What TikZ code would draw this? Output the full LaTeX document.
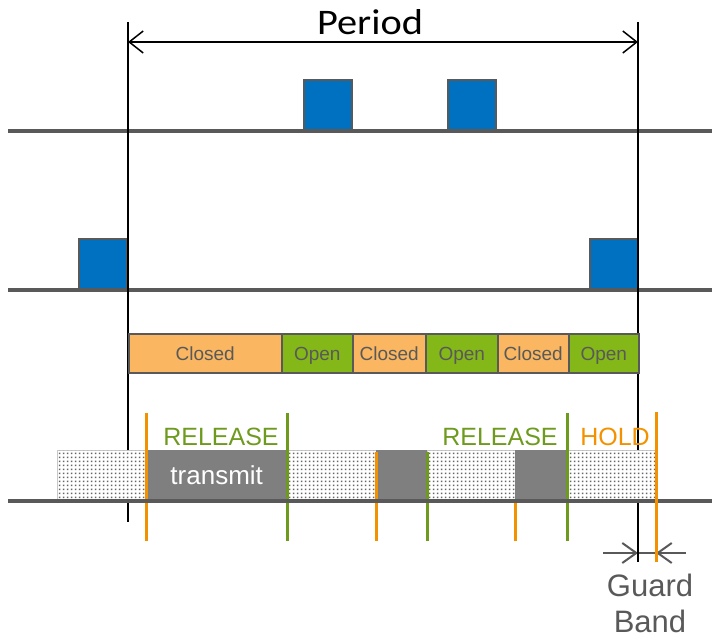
\documentclass[tikz,border=0pt]{standalone}
\usepackage{fontspec}
\setmainfont{Liberation Sans}
\newfontfamily\perfont{Carlito}
\usetikzlibrary{arrows.meta,patterns.meta}
\definecolor{lgray}{HTML}{595959}
\definecolor{blu}{HTML}{0070C0}
\definecolor{gorange}{HTML}{FAB660}
\definecolor{ggreen}{HTML}{84B818}
\definecolor{dgreen}{HTML}{6E9A1E}
\definecolor{orng}{HTML}{F39200}
\definecolor{tgray}{HTML}{7F7F7F}
\definecolor{bgray}{HTML}{C8C8C8}
\definecolor{dotgray}{HTML}{666666}
\tikzdeclarepattern{
  name=fdots,
  type=uncolored,
  bounding box={(0pt,0pt) and (3.6pt,3.6pt)},
  tile size={(3.6pt,3.6pt)},
  code={\fill (0.9pt,0.9pt) rectangle (2.7pt,2.7pt);}
}
\begin{document}
\begin{tikzpicture}[x=1pt,y=-1pt,
  wire/.style={draw=lgray,line width=4pt},
  frame/.style={draw=lgray,fill=blu,line width=2pt,minimum width=48pt,minimum height=50pt,inner sep=0pt,anchor=south west},
  bound/.style={draw=black,line width=2pt},
  gateseg/.style={draw=lgray,line width=1.5pt,minimum height=39pt,inner sep=0pt,text height=13.6pt,text depth=0pt,anchor=north west,text=lgray,font=\fontsize{19}{19}\selectfont},
  closedseg/.style={gateseg,fill=gorange},
  openseg/.style={gateseg,fill=ggreen},
  idle/.style={draw=bgray,line width=1pt,fill=white,postaction={pattern=fdots,pattern color=dotgray},minimum height=50pt,inner sep=0pt,anchor=north west},
  busy/.style={fill=tgray,minimum height=50pt,inner sep=0pt,anchor=north west},
  orl/.style={draw=orng,line width=3pt},
  grl/.style={draw=dgreen,line width=3pt},
  lbl/.style={font=\fontsize{25}{25}\selectfont,inner sep=0pt,anchor=base},
  gtxt/.style={font=\fontsize{31}{31}\selectfont,text=lgray,inner sep=0pt,anchor=base},
  garrow/.style={draw=lgray,line width=2pt,-{Straight Barb[length=14pt,width=20pt,line width=2pt]}}
]
\useasboundingbox (0,0) rectangle (712,639);

% blue frames
\node[frame] (f1) at (303,131) {};
\node[frame] (f2) at (447,131) {};
\node[frame] (f3) at (78,290) {};
\node[frame] (f4) at (589,290) {};

% wires
\coordinate (w1a) at (8,131); \coordinate (w1b) at (712,131);
\coordinate (w2a) at (8,290); \coordinate (w2b) at (712,290);
\coordinate (w3a) at (8,501); \coordinate (w3b) at (712,501);
\draw[wire] (w1a) -- (w1b);
\draw[wire] (w2a) -- (w2b);

% period bounds
\coordinate (lt) at (128,22); \coordinate (lb) at (128,522);
\coordinate (rt) at (638,22); \coordinate (rb) at (638,562);
\draw[bound] (lt) -- (lb);
\draw[bound,line width=2.5pt] (rt) -- (rb);
\coordinate (p1) at (128,42); \coordinate (p2) at (638,42);
\draw[line width=1.5pt,{Straight Barb[length=14pt,width=22pt,line width=1.5pt]}-{Straight Barb[length=14pt,width=22pt,line width=1.5pt]}] (p1) -- (p2);
\node[font=\perfont\fontsize{36}{36}\selectfont,inner sep=0pt,anchor=base] (period) at (370,35) {\scalebox{1.12}[1]{Period}};

% gate states
\node[closedseg,minimum width=153pt] (g1) at (128,333) {Closed};
\node[openseg,minimum width=71pt] (g2) at (281,333) {Open};
\node[closedseg,minimum width=73pt] (g3) at (352,333) {Closed};
\node[openseg,minimum width=72pt] (g4) at (425,333) {Open};
\node[closedseg,minimum width=71pt] (g5) at (497,333) {Closed};
\node[openseg,minimum width=70pt] (g6) at (568,333) {Open};

% transmission line
\node[idle,minimum width=89pt] (i1) at (57,450) {};
\node[busy,minimum width=141pt,text=white,font=\fontsize{26}{26}\selectfont] (t1) at (146,450) {transmit};
\node[idle,minimum width=89pt] (i2) at (287,450) {};
\node[busy,minimum width=51pt] (t2) at (376,450) {};
\node[idle,minimum width=88pt] (i3) at (427,450) {};
\node[busy,minimum width=52pt] (t3) at (515,450) {};
\node[idle,minimum width=88pt] (i4) at (567,450) {};

% gate events
\coordinate (o1a) at (146,413); \coordinate (o1b) at (146,541);
\coordinate (e1a) at (287,413); \coordinate (e1b) at (287,541);
\coordinate (o2a) at (376,452); \coordinate (o2b) at (376,541);
\coordinate (e2a) at (427,452); \coordinate (e2b) at (427,541);
\coordinate (o3a) at (515,500); \coordinate (o3b) at (515,541);
\coordinate (e3a) at (567,413); \coordinate (e3b) at (567,541);
\coordinate (o4a) at (656,412); \coordinate (o4b) at (656,562);
\draw[orl] (o1a) -- (o1b);
\draw[grl] (e1a) -- (e1b);
\draw[orl] (o2a) -- (o2b);
\draw[grl] (e2a) -- (e2b);
\draw[orl] (o3a) -- (o3b);
\draw[grl] (e3a) -- (e3b);
\draw[wire] (w3a) -- (w3b);
\draw[orl] (o4a) -- (o4b);
\draw[bound,line width=2.5pt] (638,506) -- (rb);

\node[lbl,text=dgreen] (r1) at (221,445) {RELEASE};
\node[lbl,text=dgreen] (r2) at (500,445) {RELEASE};
\node[lbl,text=orng] (h1) at (615,445) {HOLD};

% guard band
\coordinate (ga) at (603,553); \coordinate (gL) at (638,553);
\coordinate (gb) at (686,553); \coordinate (gR) at (656,553);
\draw[draw=lgray,line width=2pt] (gL) -- (gR);
\draw[garrow] (ga) -- (gL);
\draw[garrow] (gb) -- (gR);
\draw[bound,line width=2.5pt] (638,530) -- (rb);
\draw[orl] (656,530) -- (o4b);
\node[gtxt] (gt1) at (650,596) {Guard};
\node[gtxt] (gt2) at (650,632) {Band};
\end{tikzpicture}
\end{document}
